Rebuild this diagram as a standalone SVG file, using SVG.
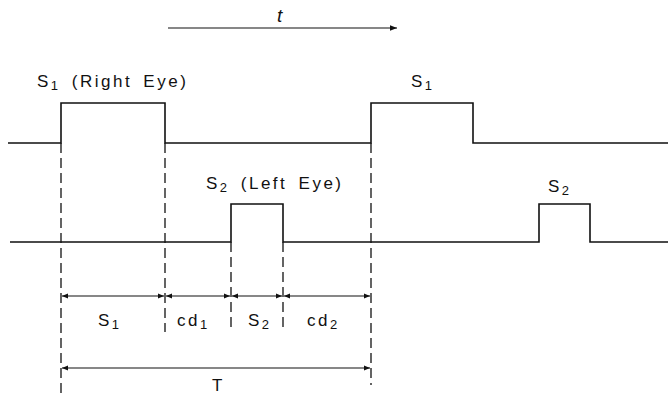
<svg xmlns="http://www.w3.org/2000/svg" width="668" height="395" viewBox="0 0 668 395">
<style>
.w{fill:none;stroke:#111;stroke-width:1.6}
.d{fill:none;stroke:#111;stroke-width:1.3;stroke-dasharray:10,5}
.a{fill:none;stroke:#111;stroke-width:1.2}
text{font-family:"Liberation Sans",Arial,sans-serif;font-size:17px;fill:#111;letter-spacing:2.5px;word-spacing:4px}
.sub{font-size:13px}
</style>
<defs>
<marker id="ae" viewBox="0 0 10 10" refX="10" refY="5" markerWidth="10" markerHeight="6" orient="auto" markerUnits="userSpaceOnUse"><path d="M0,1 L10,5 L0,9 Z" fill="#111"/></marker>
<marker id="as" viewBox="0 0 10 10" refX="0" refY="5" markerWidth="10" markerHeight="6" orient="auto" markerUnits="userSpaceOnUse"><path d="M10,1 L0,5 L10,9 Z" fill="#111"/></marker>
<marker id="at" viewBox="0 0 10 10" refX="10" refY="5" markerWidth="16" markerHeight="7" orient="auto" markerUnits="userSpaceOnUse"><path d="M0,1 L10,5 L0,9 Z" fill="#111"/></marker>
</defs>
<g id="time-arrow">
<line class="a" x1="168" y1="28" x2="397" y2="28" marker-end="url(#at)"/>
<text x="277" y="22" style="font-style:italic;font-size:19px">t</text>
</g>
<g id="waveform-s1">
<polyline class="w" points="8,143 61,143 61,103 165,103 165,143 371,143 371,103 473,103 473,143 668,143"/>
<text x="37" y="87">S<tspan class="sub" dy="3">1</tspan><tspan dy="-3"> (Right Eye)</tspan></text>
<text x="411" y="87">S<tspan class="sub" dy="3">1</tspan></text>
</g>
<g id="waveform-s2">
<polyline class="w" points="10,242 231,242 231,204 283,204 283,242 539,242 539,204 590,204 590,242 668,242"/>
<text x="206" y="189">S<tspan class="sub" dy="3">2</tspan><tspan dy="-3"> (Left Eye)</tspan></text>
<text x="548" y="192">S<tspan class="sub" dy="3">2</tspan></text>
</g>
<g id="connectors">
<line class="d" x1="61" y1="143" x2="61" y2="395"/>
<line class="d" x1="165" y1="143" x2="165" y2="332"/>
<line class="d" x1="231" y1="242" x2="231" y2="330"/>
<line class="d" x1="283" y1="242" x2="283" y2="330"/>
<line class="d" x1="371" y1="143" x2="371" y2="385"/>
<line class="a" x1="62" y1="296" x2="164" y2="296" marker-start="url(#as)" marker-end="url(#ae)"/>
<line class="a" x1="166" y1="296" x2="230" y2="296" marker-start="url(#as)" marker-end="url(#ae)"/>
<line class="a" x1="232" y1="296" x2="282" y2="296" marker-start="url(#as)" marker-end="url(#ae)"/>
<line class="a" x1="284" y1="296" x2="370" y2="296" marker-start="url(#as)" marker-end="url(#ae)"/>
<line class="a" x1="62" y1="368" x2="370" y2="368" marker-start="url(#as)" marker-end="url(#ae)"/>
</g>
<g id="labels">
<text x="98" y="326">S<tspan class="sub" dy="3">1</tspan></text>
<text x="177" y="326">cd<tspan class="sub" dy="3">1</tspan></text>
<text x="248" y="326">S<tspan class="sub" dy="3">2</tspan></text>
<text x="307" y="326">cd<tspan class="sub" dy="3">2</tspan></text>
<text x="212" y="391">T</text>
</g>
</svg>
